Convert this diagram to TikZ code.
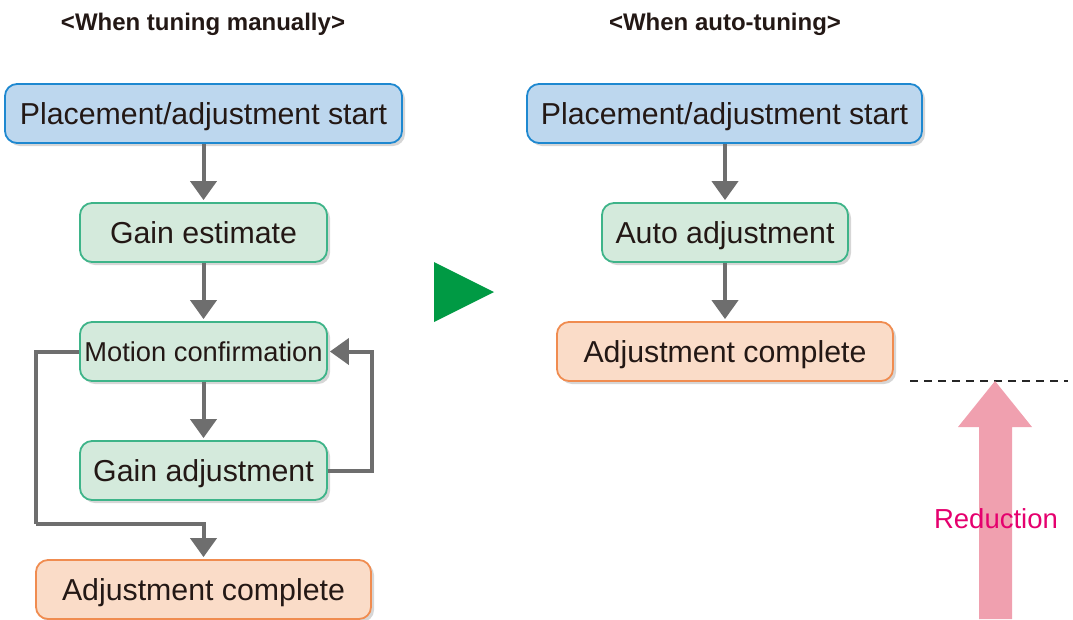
\documentclass[tikz,border=0pt]{standalone}
\usepackage{fontspec}
\setmainfont{Liberation Sans}
\usetikzlibrary{arrows.meta,shadows}
\definecolor{bluefill}{HTML}{BDD7EE}
\definecolor{blueline}{HTML}{1E88D0}
\definecolor{greenfill}{HTML}{D4EADC}
\definecolor{greenline}{HTML}{3EB489}
\definecolor{orangefill}{HTML}{FADCC8}
\definecolor{orangeline}{HTML}{F08C50}
\definecolor{arrowgray}{HTML}{6E6E6E}
\definecolor{tri}{HTML}{009A44}
\definecolor{pinkarrow}{HTML}{F0A0AF}
\definecolor{redtext}{HTML}{E5006E}
\definecolor{txt}{HTML}{231815}
\tikzset{
  box/.style={rounded corners=12pt, line width=1.8pt, minimum height=59pt, inner sep=0pt,
    text=txt, font=\fontsize{30.3}{33}\selectfont, text height=28.5pt, text depth=6.7pt,
    drop shadow={shadow xshift=3pt, shadow yshift=-3pt, fill=black!16, opacity=1}},
  startbox/.style={box, fill=bluefill, draw=blueline},
  procbox/.style={box, fill=greenfill, draw=greenline},
  endbox/.style={box, fill=orangefill, draw=orangeline},
  flow/.style={draw=arrowgray, line width=4pt, -{Triangle[width=26pt,length=19pt]}, shorten >=2pt},
  line/.style={draw=arrowgray, line width=4pt},
  title/.style={font=\bfseries\fontsize{24}{28}\selectfont, text=txt, anchor=base, inner sep=0pt}
}
\begin{document}
\begin{tikzpicture}[x=1pt,y=-1pt]
\useasboundingbox (0,0) rectangle (1073,619);
% titles
\node[title] (t1) at (203,30) {<When tuning manually>};
\node[title] (t2) at (725,30) {<When auto-tuning>};
% left flow
\node[startbox, minimum width=397pt] (ls) at (203.5,113.5) {Placement/adjustment start};
\node[procbox, minimum width=247pt] (ge) at (203.5,232.5) {Gain estimate};
\node[procbox, minimum width=247pt, font=\fontsize{27.3}{30}\selectfont, text height=26pt, text depth=6.5pt] (mc) at (203.5,351.5) {Motion confirmation};
\node[procbox, minimum width=247pt] (ga) at (203.5,470.5) {Gain adjustment};
\node[endbox, minimum width=335pt] (lc) at (203.5,589.5) {Adjustment complete};
\draw[flow] (ls) -- (ge);
\draw[flow] (ge) -- (mc);
\draw[flow] (mc) -- (ga);
\draw[flow] (ga.east) -- ++(44,0) |- (mc.east);
\coordinate (c1) at (36,524);
\draw[line] (mc.west) -| (c1);
\draw[flow] (c1) -| (lc.north);
% green triangle
\fill[tri] (434,262) -- (494,292) -- (434,322) -- cycle;
% right flow
\node[startbox, minimum width=395pt] (rs) at (724.5,113.5) {Placement/adjustment start};
\node[procbox, minimum width=246pt] (aa) at (725,232.5) {Auto adjustment};
\node[endbox, minimum width=336pt] (rc) at (725,351.5) {Adjustment complete};
\draw[flow] (rs.south -| aa.north) -- (aa);
\draw[flow] (aa) -- (rc.north -| aa.south);
% dashed line and reduction arrow
\coordinate (d1) at (910,381);
\coordinate (d2) at (1068,381);
\draw[black!85, line width=1.3pt, dash pattern=on 8pt off 6pt] (d1) -- (d2);
\fill[pinkarrow] (979,619) -- (979,427) -- (958,427) -- (995,381) -- (1032,427) -- (1012,427) -- (1012,619) -- cycle;
\node[text=redtext, font=\fontsize{27.5}{30}\selectfont] (red) at (996,519) {Reduction};
\end{tikzpicture}
\end{document}
